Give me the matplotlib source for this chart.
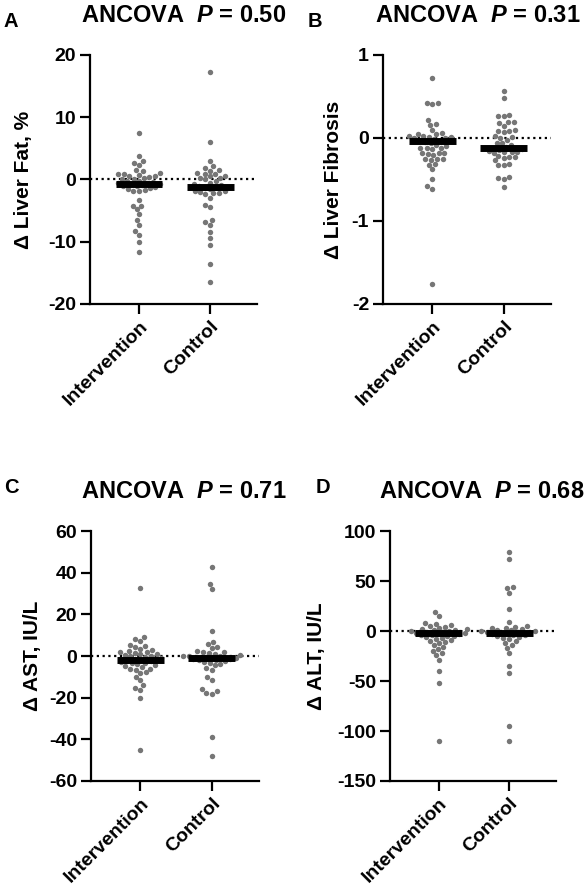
import matplotlib
matplotlib.use("Agg")
import matplotlib.pyplot as plt
import seaborn as sns

plt.rcParams['font.family'] = ['Liberation Sans', 'DejaVu Sans']
plt.rcParams['font.weight'] = 'bold'
plt.rcParams['axes.unicode_minus'] = False
plt.rcParams['mathtext.fontset'] = 'custom'
plt.rcParams['mathtext.it'] = 'Liberation Sans:italic:bold'
plt.rcParams['mathtext.rm'] = 'Liberation Sans:bold'

groups = ["Intervention", "Control"]

# panel A - liver fat
fat_int = [7.4, 3.8, 3.0, 2.7, 2.4, 1.5, 1.3, 1.0, 0.9, 0.8, 0.7, 0.6, 0.5, 0.4, 0.3,
           0.1, 0.0, -0.2, -0.3, -0.4, -0.5, -0.6, -0.7, -0.8, -0.9, -1.0, -1.1, -1.2,
           -1.3, -1.5, -1.7, -1.8, -1.9, -3.3, -4.2, -4.3, -4.8, -5.6, -6.5, -7.3, -8.3,
           -8.9, -10.0, -11.6]
fat_ctrl = [17.2, 6.0, 3.0, 2.1, 1.9, 1.5, 1.4, 1.0, 0.9, 0.8, 0.6, 0.5, 0.3, 0.2, 0.0,
            -0.3, -0.5, -0.7, -0.9, -1.0, -1.2, -1.3, -1.5, -1.8, -1.9, -2.0, -2.1, -2.2,
            -2.4, -2.9, -4.1, -4.5, -6.5, -6.8, -7.3, -8.4, -9.4, -10.6, -13.5, -16.4]
fat_bar = [-0.8, -1.2]

# panel B - liver fibrosis
fib_int = [0.72, 0.42, 0.41, 0.42, 0.22, 0.16, 0.17, 0.10, 0.06, 0.05, 0.05, 0.02, 0.02,
           0.01, 0.01, 0.0, 0.0, -0.01, -0.03, -0.04, -0.05, -0.06, -0.08, -0.10, -0.12,
           -0.12, -0.12, -0.13, -0.18, -0.18, -0.19, -0.18, -0.20, -0.25, -0.25, -0.26,
           -0.25, -0.31, -0.32, -0.37, -0.49, -0.58, -0.61, -1.76]
fib_ctrl = [0.56, 0.48, 0.28, 0.26, 0.27, 0.19, 0.18, 0.19, 0.15, 0.10, 0.08, 0.08, 0.07,
            0.02, 0.0, 0.01, -0.02, -0.06, -0.06, -0.09, -0.11, -0.13, -0.14, -0.17, -0.17,
            -0.16, -0.17, -0.18, -0.23, -0.22, -0.23, -0.24, -0.27, -0.32, -0.31, -0.33,
            -0.47, -0.50, -0.48, -0.59]
fib_bar = [-0.04, -0.125]

# panel C - AST
ast_int = [32.8, 9.3, 8.2, 7.4, 5.3, 5.0, 4.2, 3.5, 3.0, 2.5, 2.0, 1.8, 1.5, 1.0, 0.8, 0.5,
           0.2, 0.0, -0.5, -1.0, -1.2, -1.5, -2.0, -2.2, -2.5, -3.0, -3.2, -3.5, -4.0, -4.5,
           -5.0, -5.5, -6.0, -6.0, -6.5, -7.5, -8.0, -10.0, -11.5, -14.0, -15.2, -16.2,
           -20.0, -45.0]
ast_ctrl = [42.9, 34.4, 32.0, 12.0, 6.9, 5.8, 4.2, 4.0, 2.5, 2.0, 1.8, 1.5, 1.0, 0.5, 0.2,
            0.0, -0.2, -0.5, -0.8, -1.0, -1.2, -1.5, -1.8, -2.0, -2.5, -3.0, -3.5, -4.0,
            -4.5, -5.9, -6.7, -10.2, -11.5, -16.0, -16.6, -17.6, -18.0, -38.7, -48.0]
ast_bar = [-1.9, -1.1]

# panel D - ALT
alt_int = [19.3, 15.3, 8, 7.5, 6, 5, 4, 3, 2.5, 2, 1.5, 1, 0.5, 0, -0.5, -1, -1.5, -2,
           -2.5, -3, -3.5, -4, -4.5, -5, -6, -7, -8, -9, -10, -11, -12, -14, -16, -18,
           -20, -22, -24, -29, -39.7, -52, -110]
alt_ctrl = [79.3, 71.7, 44.3, 43.0, 38.0, 21.7, 9.3, 5.0, 4.5, 3.5, 3, 2, 1.5, 1, 0.5, 0,
            -0.5, -1, -1.5, -2, -2.5, -3, -3.5, -4, -5, -6, -7, -8, -10, -12, -14, -17,
            -22, -34.7, -42.3, -95, -110]
alt_bar = [-2.3, -2.3]

p_values = ["0.50", "0.31", "0.71", "0.68"]


def draw_panel(ax, vals_int, vals_ctrl, bars, ylabel, yticks, label_x):
    sns.swarmplot(data=[vals_int, vals_ctrl], ax=ax, color='#767676', size=3.9,
                  linewidth=0, warn_thresh=1, zorder=2)
    ax.axhline(0, color='black', lw=1.6, ls=(0, (1, 1.6)), zorder=1)
    for i, b in enumerate(bars):
        ax.hlines(b, i - 0.33, i + 0.33, color='black', lw=5, zorder=3)

    ax.set_xlim(-0.69, 1.66)
    ax.set_ylim(yticks[0], yticks[-1])
    ax.set_yticks(yticks)
    ax.set_xticks([0, 1])
    ax.set_xticklabels(groups, rotation=45, ha='right', rotation_mode='anchor',
                       fontsize=14, fontweight='bold')
    for t in ax.get_yticklabels():
        t.set_fontsize(14)
        t.set_fontweight('bold')
    ax.tick_params(axis='both', width=1.6, length=7, pad=3)
    for s in ['top', 'right']:
        ax.spines[s].set_visible(False)
    for s in ['left', 'bottom']:
        ax.spines[s].set_linewidth(1.6)
    ax.set_ylabel(ylabel, fontsize=15, fontweight='bold')
    ax.yaxis.set_label_coords(label_x, 0.5)


fig = plt.figure(figsize=(5.86, 8.88), dpi=100)

axA = fig.add_axes([0.1536, 0.6577, 0.285, 0.2804])
axB = fig.add_axes([0.6536, 0.6577, 0.2867, 0.2804])
axC = fig.add_axes([0.155, 0.1205, 0.287, 0.2815])
axD = fig.add_axes([0.6655, 0.1205, 0.283, 0.2815])

draw_panel(axA, fat_int, fat_ctrl, fat_bar, "Δ Liver Fat, %", [-20, -10, 0, 10, 20], -0.34)
draw_panel(axB, fib_int, fib_ctrl, fib_bar, "Δ Liver Fibrosis", [-2, -1, 0, 1], -0.24)
draw_panel(axC, ast_int, ast_ctrl, ast_bar, "Δ AST, IU/L", [-60, -40, -20, 0, 20, 40, 60], -0.29)
draw_panel(axD, alt_int, alt_ctrl, alt_bar, "Δ ALT, IU/L", [-150, -100, -50, 0, 50, 100], -0.386)

# titles and panel letters (figure pixel positions / size)
W, H = 586.0, 888.0
title_pos = [(184, 22), (478, 22), (184, 498), (482, 498)]
letter_pos = [(3, 27), (308, 27), (4, 493), (316, 493)]
for (tx, ty), p in zip(title_pos, p_values):
    fig.text(tx / W, 1 - ty / H, "ANCOVA  $P$ = " + p, ha='center', va='baseline',
             fontsize=17, fontweight='bold')
for (lx, ly), letter in zip(letter_pos, "ABCD"):
    fig.text(lx / W, 1 - ly / H, letter, ha='left', va='baseline',
             fontsize=14.5, fontweight='bold')

fig.savefig("out.png", dpi=100)
